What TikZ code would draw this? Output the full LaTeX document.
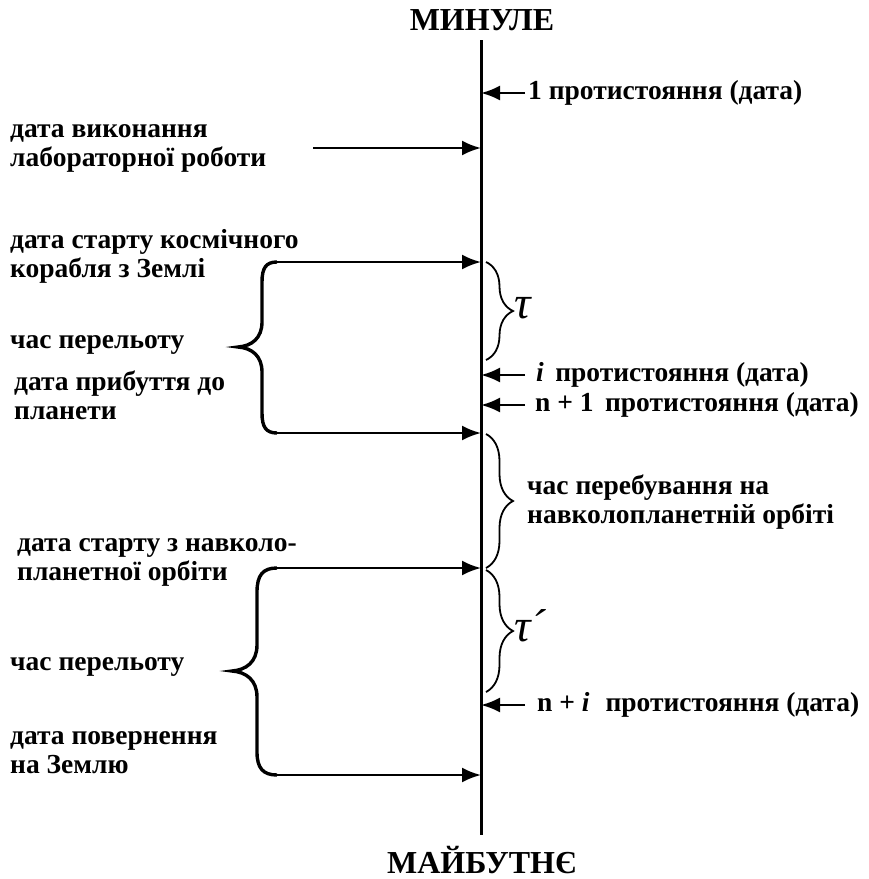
\documentclass[tikz,border=0pt]{standalone}
\usepackage{fontspec}
\setmainfont{Liberation Serif}
\usetikzlibrary{arrows.meta,decorations.pathreplacing}

\tikzset{
  lbl/.style={font=\bfseries\fontsize{27.5}{29}\selectfont, anchor=west, align=left, inner sep=0pt},
  ttl/.style={font=\bfseries\fontsize{32}{34}\selectfont, inner sep=0pt},
  tau/.style={font=\itshape\fontsize{46}{46}\selectfont, anchor=west, inner sep=0pt},
  ptr/.style={line width=2.4pt, -{Latex[length=19pt,width=15pt]}},
  bigbrace/.style={line width=3.4pt},
  smallbrace/.style={line width=1.8pt, decorate, decoration={brace, amplitude=27pt}},
}

\begin{document}
\begin{tikzpicture}[x=1pt,y=-1pt]
\useasboundingbox (0,0) rectangle (869,879);

% time axis
\node[ttl] (past) at (482,20) {МИНУЛЕ};
\node[ttl] (future) at (482,860) {МАЙБУТНЄ};
\coordinate (top) at (481,40);
\coordinate (bot) at (481,835);
\draw[line width=3pt] (top) -- (bot);

% points on the axis
\coordinate (t1) at (481,93);
\coordinate (tlab) at (481,148);
\coordinate (tstart) at (481,262);
\coordinate (ti) at (481,375);
\coordinate (tn1) at (481,405);
\coordinate (tarr) at (481,433);
\coordinate (torb) at (481,568);
\coordinate (tni) at (481,705);
\coordinate (tret) at (481,775);

% right side: oppositions
\node[lbl] (opp1) at (528,93) {1 протистояння (дата)};
\node[lbl] (oppi) at (536,375) {\textit{i}\, протистояння (дата)};
\node[lbl] (oppn1) at (535,405) {n + 1\, протистояння (дата)};
\node[lbl] (oppni) at (537,705) {n + \textit{i}\,\, протистояння (дата)};
\coordinate (s1) at (525,93);
\coordinate (si) at (525,375);
\coordinate (sn1) at (525,405);
\coordinate (sni) at (525,705);
\draw[ptr] (s1) -- (t1);
\draw[ptr] (si) -- (ti);
\draw[ptr] (sn1) -- (tn1);
\draw[ptr] (sni) -- (tni);

% left side
\node[lbl] (lab) at (10,148) {дата виконання\\лабораторної роботи};
\coordinate (slab) at (313,148);
\draw[ptr] (slab) -- (tlab);

\node[lbl] (start) at (10,256) {дата старту космічного\\корабля з Землі};
\node[lbl] (fly1) at (10,345) {час перельоту};
\node[lbl] (arr) at (14,395) {дата прибуття до\\планети};

\coordinate (b1t) at (277,262);
\coordinate (b1b) at (277,433);
\draw[bigbrace] (b1t) .. controls (266,262) and (262,268) .. (262,282) -- (262,322)
  .. controls (262,338) and (252,346) .. (238,347)
  .. controls (252,348) and (262,356) .. (262,372) -- (262,413)
  .. controls (262,427) and (266,433) .. (b1b);
\draw[ptr] (b1t) -- (tstart);
\draw[ptr] (b1b) -- (tarr);

\node[lbl] (orb) at (17,562) {дата старту з навколо-\\планетної орбіти};
\node[lbl] (fly2) at (10,667) {час перельоту};
\node[lbl] (ret) at (10,753) {дата повернення\\на Землю};

\coordinate (b2t) at (277,568);
\coordinate (b2b) at (277,775);
\draw[bigbrace] (b2t) .. controls (263,568) and (257,575) .. (257,592) -- (257,645)
  .. controls (257,662) and (246,670) .. (232,671)
  .. controls (246,672) and (257,680) .. (257,697) -- (257,752)
  .. controls (257,768) and (263,775) .. (b2b);
\draw[ptr] (b2t) -- (torb);
\draw[ptr] (b2b) -- (tret);

% intervals on the right
\draw[smallbrace] (486,262) -- (486,360);
\node[tau] (tau1) at (514,308) {τ};
\draw[smallbrace] (486,434) -- (486,568);
\node[lbl] (stay) at (527,502) {час перебування на\\навколопланетній орбіті};
\draw[smallbrace] (486,570) -- (486,692);
\node[tau] (tau2) at (514,626) {τ´};
\end{tikzpicture}
\end{document}
